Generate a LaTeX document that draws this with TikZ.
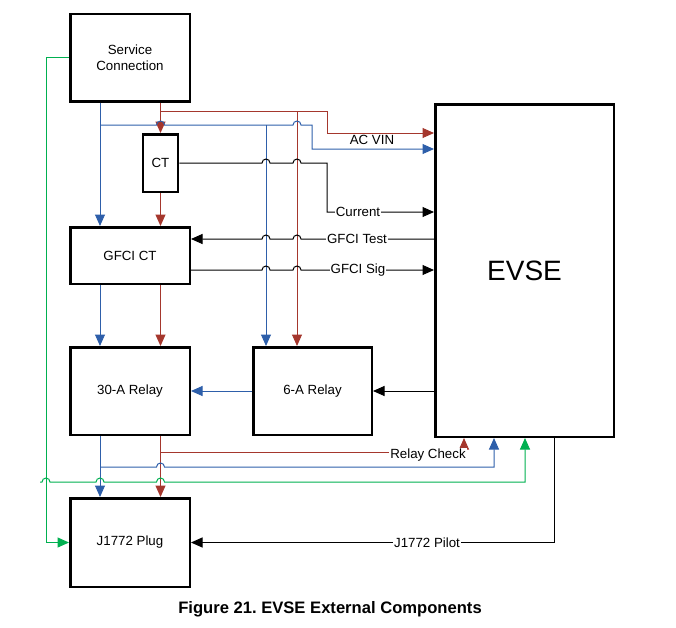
\documentclass[tikz,border=0pt]{standalone}
\usepackage{fontspec}
\setmainfont{Liberation Sans}
\usepackage{tikz}
\usetikzlibrary{arrows.meta}

\definecolor{wred}{RGB}{165,55,45}
\definecolor{wblue}{RGB}{46,95,170}
\definecolor{wgreen}{RGB}{0,176,80}

\begin{document}
\begin{tikzpicture}[x=1pt,y=-1pt,
    box/.style={draw,line width=2.5pt,align=center,font=\fontsize{13.3}{16}\selectfont},
    lbl/.style={font=\fontsize{13.3}{16}\selectfont,fill=white,inner sep=1pt},
    wire/.style={line width=1pt},
    tip/.style={-{Triangle[length=11.5pt,width=10pt]}}
]

\useasboundingbox (0,0) rectangle (676,627);

% Blocks
\node[box,minimum width=119.5pt,minimum height=87.5pt] (sc) at (130,57.5) {Service\\Connection};
\node[box,minimum width=35pt,minimum height=57.5pt] (ct) at (160.5,163) {CT};
\node[box,minimum width=119.5pt,minimum height=56.5pt] (gfci) at (130,255.5) {GFCI CT};
\node[box,minimum width=119.5pt,minimum height=87.5pt] (relayA) at (130,391) {30-A Relay};
\node[box,minimum width=118.5pt,minimum height=87.5pt] (relayB) at (312.5,391) {6-A Relay};
\node[box,minimum width=119.5pt,minimum height=88.5pt] (plug) at (130,542.5) {J1772 Plug};
\node[box,minimum width=178.5pt,minimum height=332.5pt,font=\fontsize{28}{32}\selectfont] (evse) at (524.5,270.5) {EVSE};

% Red supply
\draw[wire,wred,tip] (sc.south -| ct) -- (ct.north);
\draw[wire,wred,tip] (160.5,111) -- (327,111) -- (327,133) -- (evse.west |- 0,133);
\draw[wire,wred,tip] (297,111) -- (relayB.north -| 297,0);
\draw[wire,wred,tip] (ct.south) -- (gfci.north -| ct);
\draw[wire,wred,tip] (gfci.south -| ct) -- (relayA.north -| ct);
\draw[wire,wred,tip] (relayA.south -| ct) -- (plug.north -| ct);

% Blue supply
\draw[wire,wblue,tip] (sc.south -| 100,0) -- (gfci.north -| 100,0);
\draw[wire,wblue,tip] (100,125) -- (156.5,125) arc[start angle=180,end angle=0,radius=4pt]
    -- (293,125) arc[start angle=180,end angle=0,radius=4pt]
    -- (312,125) -- (312,149) -- (evse.west |- 0,149);
\draw[wire,wblue,tip] (266,125) -- (relayB.north -| 266,0);
\draw[wire,wblue,tip] (gfci.south -| 100,0) -- (relayA.north -| 100,0);
\draw[wire,wblue,tip] (relayA.south -| 100,0) -- (plug.north -| 100,0);
\draw[wire,wblue,tip] (relayB.west) -- (relayA.east);

% AC VIN label
\node[font=\fontsize{13.3}{16}\selectfont] (acvin) at (372,140) {AC VIN};

% Current
\draw[wire,tip] (ct.east) -- (262,163) arc[start angle=180,end angle=0,radius=4pt]
    -- (293,163) arc[start angle=180,end angle=0,radius=4pt]
    -- (327,163) -- (327,212) -- (evse.west |- 0,212);
\node[lbl] (cur) at (358,212) {Current};

% GFCI test and signal
\draw[wire,tip] (evse.west |- 0,239) -- (301,239) arc[start angle=0,end angle=180,radius=4pt]
    -- (270,239) arc[start angle=0,end angle=180,radius=4pt]
    -- (gfci.east |- 0,239);
\node[lbl] (gtest) at (357,239) {GFCI Test};
\draw[wire,tip] (gfci.east |- 0,270) -- (262,270) arc[start angle=180,end angle=0,radius=4pt]
    -- (293,270) arc[start angle=180,end angle=0,radius=4pt]
    -- (evse.west |- 0,270);
\node[lbl] (gsig) at (358,270) {GFCI Sig};

% Relay drive
\draw[wire,tip] (evse.west |- relayB) -- (relayB.east);

% Relay check and feedback
\draw[wire,wred,tip] (160.5,452) -- (464,452) -- (evse.south -| 464,0);
\node[lbl] (rcheck) at (428,455) {Relay Check};
\draw[wire,wblue,tip] (100,467) -- (156.5,467) arc[start angle=180,end angle=0,radius=4pt]
    -- (494,467) -- (evse.south -| 494,0);
\draw[wire,wgreen,tip] (40,482) -- (42,482) arc[start angle=180,end angle=0,radius=4pt]
    -- (96,482) arc[start angle=180,end angle=0,radius=4pt]
    -- (156.5,482) arc[start angle=180,end angle=0,radius=4pt]
    -- (525,482) -- (evse.south -| 525,0);

% Pilot
\draw[wire,wgreen,tip] (sc.west) -- (46,57.5) -- (46,542.5) -- (plug.west);
\draw[wire,tip] (evse.south -| 554,0) -- (554,542.5) -- (plug.east);
\node[lbl] (pilot) at (427,543) {J1772 Pilot};

% Caption
\node[font=\bfseries\fontsize{16.6}{19}\selectfont] (cap) at (330,609) {Figure 21.\ EVSE External Components};

\end{tikzpicture}
\end{document}
